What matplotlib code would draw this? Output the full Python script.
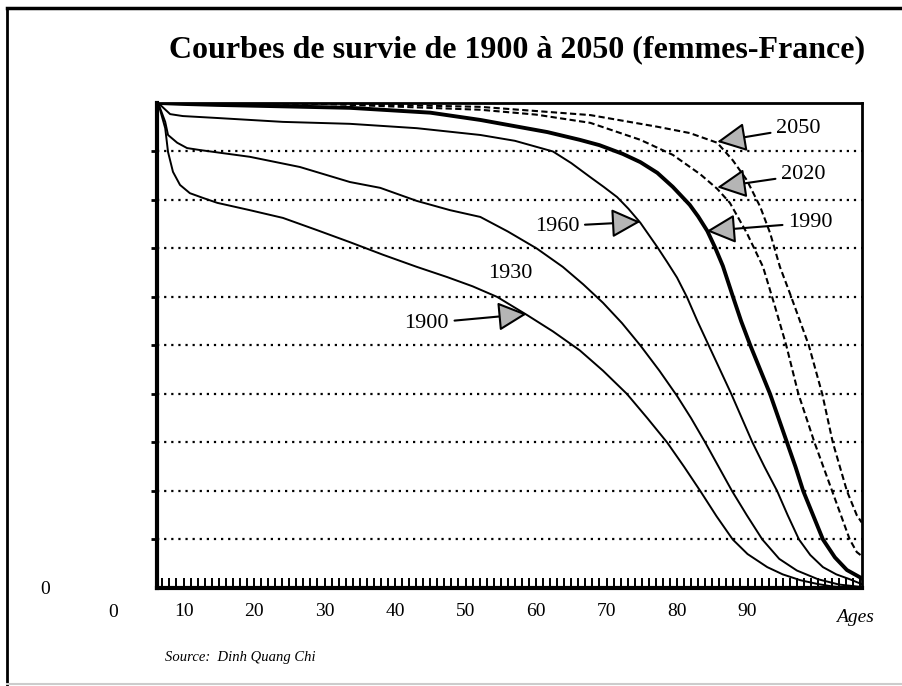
import matplotlib
matplotlib.use("Agg")
import matplotlib.pyplot as plt
from matplotlib.lines import Line2D
from matplotlib.ticker import MultipleLocator

# --- DONNEES (age, % de survivantes) ---
ages_1900 = [6.4, 7.4, 7.8, 8.5, 9.5, 10.9, 12.8, 14.8, 19.4, 24.1, 28.9, 33.6, 38.3, 43.1,
             47.4, 51.0, 54.5, 58.7, 62.4, 66.2, 69.5, 72.9, 75.8, 78.6, 81.0, 83.3, 85.6,
             87.9, 90.0, 92.8, 95.0, 97.5, 100.0, 102.1, 104.0, 106.2]
surv_1900 = [100, 94.8, 89.9, 85.8, 83.1, 81.4, 80.4, 79.4, 77.9, 76.3, 73.8, 71.3, 68.7, 66.2,
             64.1, 62.2, 60.0, 56.3, 52.9, 49.0, 44.8, 40.0, 35.0, 30.0, 25.0, 20.0, 14.8,
             10.0, 7.0, 4.3, 2.8, 1.6, 0.8, 0.3, 0.1, 0]

ages_1930 = [6.4, 7.4, 7.8, 9.1, 10.5, 12.3, 19.4, 26.5, 33.6, 37.9, 43.1, 47.8, 52.1, 56.0,
             60.1, 63.8, 66.7, 69.5, 72.2, 74.8, 77.5, 80.0, 82.0, 84.0, 85.9, 87.8, 89.9,
             92.1, 94.5, 97.0, 100.0, 103.0, 106.2]
surv_1930 = [100, 96.1, 93.4, 91.8, 90.7, 90.3, 88.9, 86.8, 83.7, 82.5, 79.8, 77.9, 76.5, 73.5,
             70.0, 66.2, 62.6, 58.8, 54.6, 50.0, 44.8, 39.6, 35.0, 30.0, 25.0, 20.0, 15.0,
             10.0, 6.0, 3.6, 1.8, 0.7, 0.2]

ages_1960 = [6.4, 8.1, 9.9, 14.8, 24.1, 33.6, 43.1, 52.1, 57.0, 62.4, 65.0, 67.7, 69.6, 71.5,
             73.1, 74.8, 77.2, 78.6, 80.0, 81.4, 82.9, 84.5, 86.1, 87.7, 89.2, 90.7, 92.4,
             94.2, 95.7, 97.3, 98.9, 100.7, 102.6, 104.5, 106.2]
surv_1960 = [100, 97.7, 97.3, 96.9, 96.1, 95.7, 94.8, 93.4, 92.2, 90.0, 87.6, 84.7, 82.7, 80.6,
             78.2, 75.3, 70.3, 67.2, 64.0, 60.0, 55.0, 50.0, 45.0, 40.0, 35.0, 30.0, 25.0,
             20.0, 15.0, 10.0, 6.8, 4.3, 2.8, 1.8, 0.8]

ages_1990 = [6.4, 10.0, 14.8, 33.6, 45.0, 52.1, 61.6, 66.2, 69.0, 72.3, 74.8, 77.2, 79.4, 81.8,
             83.0, 84.3, 85.4, 86.5, 87.9, 89.1, 90.4, 91.8, 93.2, 94.4, 95.6, 96.8, 97.9,
             99.3, 100.7, 102.4, 104.1, 106.2]
surv_1990 = [100, 99.8, 99.6, 99.0, 98.0, 96.5, 94.0, 92.4, 91.3, 89.5, 87.8, 85.6, 82.7, 79.0,
             76.6, 73.6, 70.2, 66.4, 60.2, 55.0, 50.0, 45.0, 40.0, 35.0, 30.0, 25.0, 20.0,
             15.0, 10.0, 6.3, 3.7, 2.0]

ages_2020 = [6.4, 30.0, 52.1, 60.0, 67.7, 74.8, 79.4, 83.3, 85.7, 87.5, 89.9, 92.2, 93.8, 95.5,
             97.2, 99.5, 102.0, 104.5, 105.5, 106.2]
surv_2020 = [100, 99.8, 98.6, 97.6, 95.9, 92.4, 89.3, 85.3, 82.3, 79.4, 73.2, 66.2, 58.5, 50.0,
             40.1, 30.0, 20.0, 10.0, 7.4, 6.6]

ages_2050 = [6.4, 30.0, 52.1, 67.7, 77.2, 81.8, 85.7, 87.9, 89.9, 91.8, 93.2, 94.6, 96.0, 98.7,
             100.6, 102.1, 104.1, 105.5, 106.2]
surv_2050 = [100, 99.9, 99.2, 97.5, 95.1, 93.8, 91.8, 88.2, 84.1, 78.6, 73.2, 66.2, 60.8, 50.0,
             40.0, 30.0, 20.0, 15.0, 13.5]

# etiquettes des courbes : (texte, position du texte, pointe de la fleche ou None)
labels = ["2050", "2020", "1990", "1960", "1930", "1900"]
label_pos = [(97.2, 94.8), (97.9, 85.2), (98.9, 75.3), (63.0, 74.6), (56.3, 64.9), (44.5, 54.6)]
arrow_tips = [(85.7, 92.0), (85.7, 82.6), (84.2, 73.6), (74.8, 75.5), None, (58.7, 56.5)]

x_ticks = [10, 20, 30, 40, 50, 60, 70, 80, 90]

# --- STYLE ---
plt.rcParams["font.family"] = ["Liberation Serif", "DejaVu Serif"]

fig = plt.figure(figsize=(9.03, 6.86), dpi=100)
ax = fig.add_axes([0.1739, 0.1429, 0.7807, 0.7070])

thin = dict(color="black", lw=1.4)
ax.plot(ages_1900, surv_1900, **thin)
ax.plot(ages_1930, surv_1930, **thin)
ax.plot(ages_1960, surv_1960, **thin)
ax.plot(ages_1990, surv_1990, color="black", lw=2.8)
ax.plot(ages_2020, surv_2020, color="black", lw=1.5, dashes=(3, 1.6))
ax.plot(ages_2050, surv_2050, color="black", lw=1.5, dashes=(3, 1.6))

ax.set_xlim(6.24, 106.24)
ax.set_ylim(0, 100)

# grille horizontale en pointilles
ax.set_yticks(range(10, 100, 10))
ax.set_yticklabels([])
ax.yaxis.grid(True, linestyle=(0, (1, 2.2)), lw=1.6, color="black")
ax.tick_params(axis="y", direction="out", length=4, width=2)

# graduation annuelle sur l'axe des ages
ax.set_xticks(x_ticks)
ax.set_xticklabels([str(t) for t in x_ticks], fontsize=14)
ax.xaxis.set_minor_locator(MultipleLocator(1))
ax.tick_params(axis="x", which="both", direction="in", length=7, width=1.4, pad=11)

for side in ["left", "bottom"]:
    ax.spines[side].set_linewidth(3)
for side in ["top", "right"]:
    ax.spines[side].set_linewidth(2)

ax.text(0, -0.0515, "0", transform=ax.get_xaxis_transform(), ha="center", va="center",
        fontsize=14, clip_on=False)
ax.text(105.2, -0.06, "Ages", transform=ax.get_xaxis_transform(), ha="center", va="center",
        fontsize=14, style="italic", clip_on=False)
ax.text(-0.159, -0.004, "0", transform=ax.transAxes, ha="center", va="center", fontsize=14)

for txt, pos, tip in zip(labels, label_pos, arrow_tips):
    if tip is None:
        ax.text(pos[0], pos[1], txt, ha="center", va="center", fontsize=16)
        continue
    ax.annotate(txt, xy=tip, xytext=pos, ha="center", va="center", fontsize=16,
                arrowprops=dict(arrowstyle="-|>,head_length=0.9,head_width=0.45",
                                mutation_scale=20, fc="#b5b5b5", ec="black", lw=1.5,
                                shrinkA=2, shrinkB=0))

fig.text(0.573, 0.927, "Courbes de survie de 1900 à 2050 (femmes-France)",
         ha="center", va="center", fontsize=23, fontweight="bold")
fig.text(0.183, 0.041, "Source:  Dinh Quang Chi", ha="left", va="center",
         fontsize=10.5, style="italic")

# cadre exterieur
fig.add_artist(Line2D([0.008, 1.0], [0.988, 0.988], transform=fig.transFigure,
                      color="black", lw=2.5))
fig.add_artist(Line2D([0.008, 0.008], [0.0, 0.988], transform=fig.transFigure,
                      color="black", lw=2))
fig.add_artist(Line2D([0.008, 1.0], [0.003, 0.003], transform=fig.transFigure,
                      color="#cccccc", lw=1.5))

fig.savefig("out.png", dpi=100)
